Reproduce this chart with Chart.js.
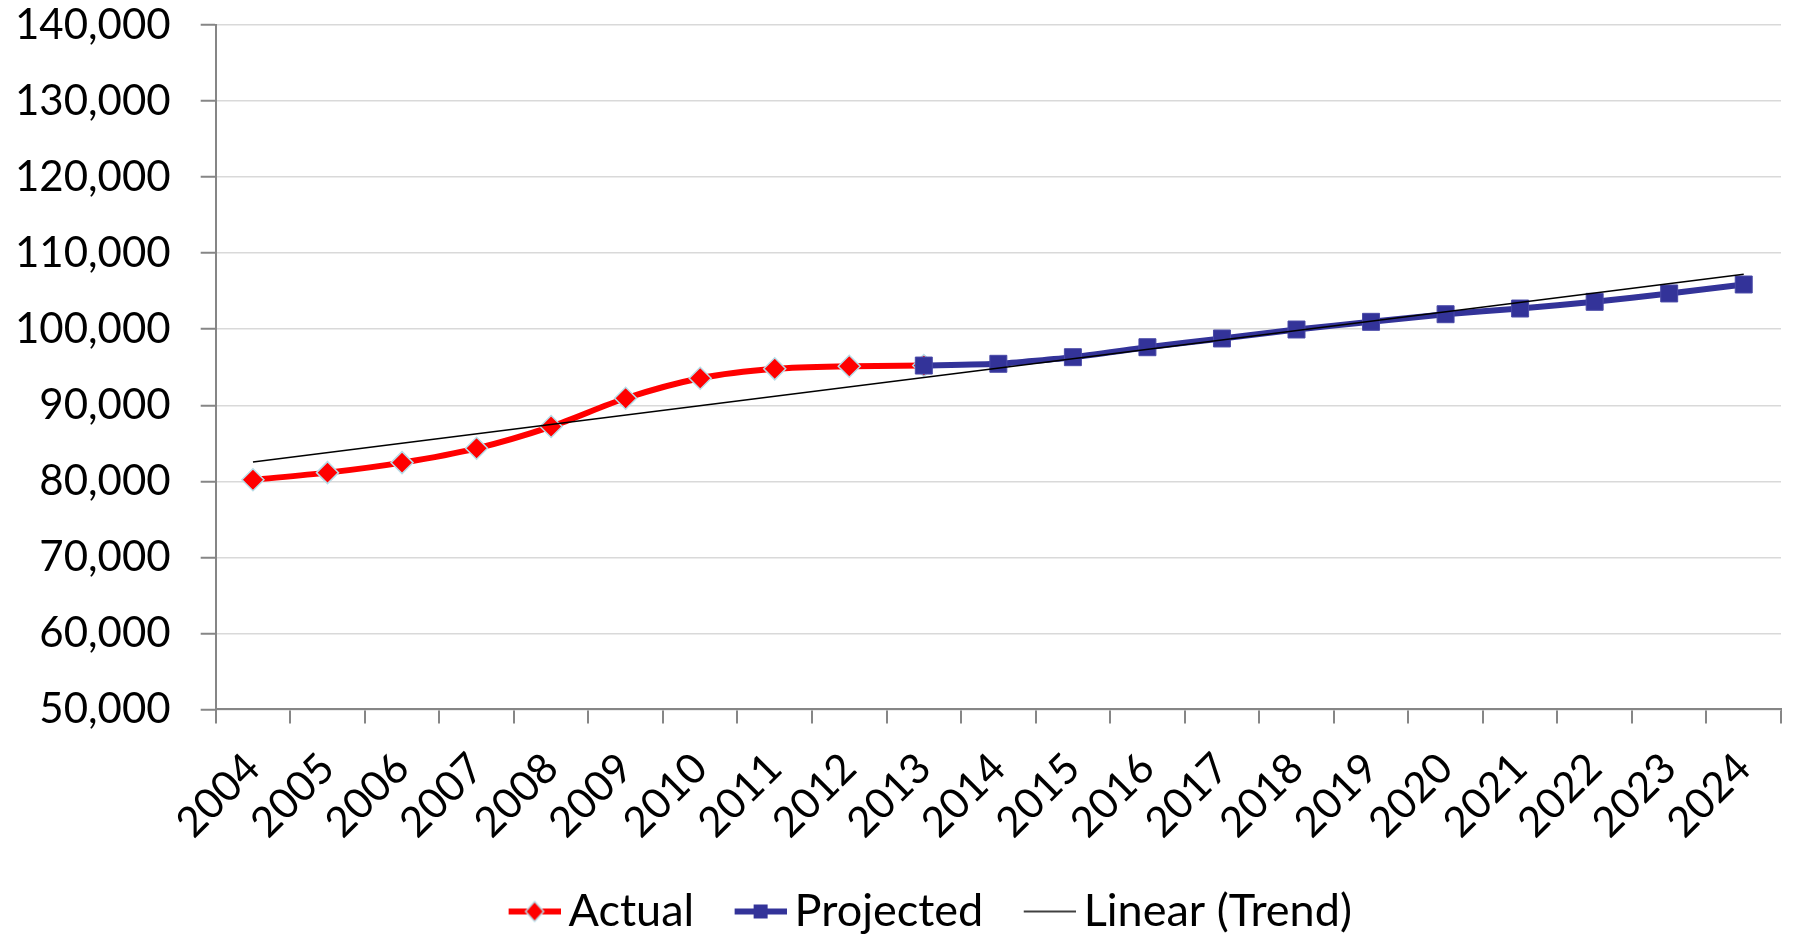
<!DOCTYPE html>
<html>
<head>
<meta charset="utf-8">
<script src="https://cdn.jsdelivr.net/npm/chart.js@4.4.1/dist/chart.umd.min.js"></script>
<style>
  html, body { margin: 0; padding: 0; background: #fff; }
  #wrap { width: 1794px; height: 938px; position: relative; }
</style>
</head>
<body>
<div id="wrap"><canvas id="main"></canvas></div>
<script>
const years = ['2004', '2005', '2006', '2007', '2008', '2009', '2010', '2011', '2012', '2013', '2014',
  '2015', '2016', '2017', '2018', '2019', '2020', '2021', '2022', '2023', '2024'];

const actual = [80200, 81140, 82460, 84340, 87200, 90920, 93550, 94790, 95130, 95220,
  null, null, null, null, null, null, null, null, null, null, null];

const projected = [null, null, null, null, null, null, null, null, null, 95220, 95450,
  96320, 97630, 98780, 99960, 100970, 101970, 102720, 103600, 104700, 105880];

// trend: only the two end points, line drawn straight between them
const trend = [82540, null, null, null, null, null, null, null, null, null, null,
  null, null, null, null, null, null, null, null, null, 107240];

const RED = '#ff0000';
const NAVY = '#333399';
const FONT = 'Lato, "Open Sans", sans-serif';

// legend pictures: a line with the marker on it, like excel.
// canvas is wider than the legend box, the line sits at its right end
const ICON_W = 86;
const legendIcon = (color, lw, marker) => {
  const c = document.createElement('canvas');
  c.width = ICON_W; c.height = 26;
  const ctx = c.getContext('2d');
  const x0 = ICON_W - 52, mid = ICON_W - 26;
  ctx.strokeStyle = color;
  ctx.lineWidth = lw;
  ctx.beginPath();
  ctx.moveTo(x0, 13);
  ctx.lineTo(ICON_W, 13);
  ctx.stroke();
  if (marker === 'diamond') {
    ctx.beginPath();
    ctx.moveTo(mid, 3); ctx.lineTo(mid + 9, 13); ctx.lineTo(mid, 23); ctx.lineTo(mid - 9, 13);
    ctx.closePath();
    ctx.fillStyle = RED; ctx.fill();
    ctx.lineWidth = 1.5; ctx.strokeStyle = '#b7dde8'; ctx.stroke();
  } else if (marker === 'square') {
    ctx.fillStyle = NAVY;
    ctx.fillRect(mid - 7, 6, 14, 14);
  }
  return c;
};
const icons = [legendIcon(RED, 6, 'diamond'), legendIcon(NAVY, 6, 'square'), legendIcon('#000', 1.5)];

const yFmt = v => v.toLocaleString('en-US');

// excel centres the legend a bit right of the canvas middle
const legendShift = {
  id: 'legendShift',
  afterLayout(chart) {
    chart.legend.left += 31;
    chart.legend.right += 31;
  },
};

new Chart(document.getElementById('main'), {
  type: 'line',
  data: {
    labels: years,
    datasets: [
      {
        label: 'Actual',
        data: actual,
        borderColor: RED,
        backgroundColor: RED,
        borderWidth: 6,
        tension: 0.3,
        pointStyle: 'rectRot',
        pointRadius: 11,
        pointBackgroundColor: RED,
        pointBorderColor: '#b7dde8',
        pointBorderWidth: 1.5,
        order: 2,
      },
      {
        label: 'Projected',
        data: projected,
        borderColor: NAVY,
        backgroundColor: NAVY,
        borderWidth: 6,
        tension: 0.15,
        pointStyle: 'rect',
        pointRadius: 12,
        pointBackgroundColor: NAVY,
        pointBorderColor: '#4a4aa8',
        pointBorderWidth: 1,
        order: 1,
      },
      {
        label: 'Linear (Trend)',
        data: trend,
        borderColor: '#000',
        backgroundColor: '#000',
        borderWidth: 1.5,
        pointRadius: 0,
        spanGaps: true,
        order: 0,
      },
    ],
  },
  plugins: [legendShift],
  options: {
    responsive: true,
    maintainAspectRatio: false,
    animation: false,
    layout: { padding: { top: 25, right: 0, left: -15, bottom: -6 } },
    plugins: {
      tooltip: { enabled: false },
      legend: {
        position: 'bottom',
        labels: {
          usePointStyle: true,
          pointStyleWidth: ICON_W - 29,
          padding: 21,
          color: '#000',
          font: { family: FONT, size: 45 },
          generateLabels: chart => {
            const items = Chart.defaults.plugins.legend.labels.generateLabels(chart);
            items.forEach(it => { it.pointStyle = icons[it.datasetIndex]; });
            return items.sort((a, b) => a.datasetIndex - b.datasetIndex);
          },
        },
      },
    },
    scales: {
      x: {
        offset: true,
        afterFit: s => { s.paddingRight = 0; },
        grid: {
          offset: true,
          drawOnChartArea: false,
          drawTicks: true,
          tickLength: 14,
          color: '#868686',
          lineWidth: 2,
        },
        border: { color: '#868686', width: 2 },
        ticks: {
          color: '#000',
          font: { family: FONT, size: 42 },
          minRotation: 45,
          maxRotation: 45,
          padding: 20,
          autoSkip: false,
        },
      },
      y: {
        min: 50000,
        max: 140000,
        afterFit: s => { s.paddingTop = 0; },
        grid: {
          color: '#d9d9d9',
          lineWidth: 1.5,
          tickLength: 15,
          tickColor: '#868686',
          tickWidth: 2,
        },
        border: { color: '#868686', width: 2 },
        ticks: {
          stepSize: 10000,
          color: '#000',
          padding: 30,
          font: { family: FONT, size: 42 },
          callback: v => yFmt(v),
        },
      },
    },
  },
});
</script>
</body>
</html>
